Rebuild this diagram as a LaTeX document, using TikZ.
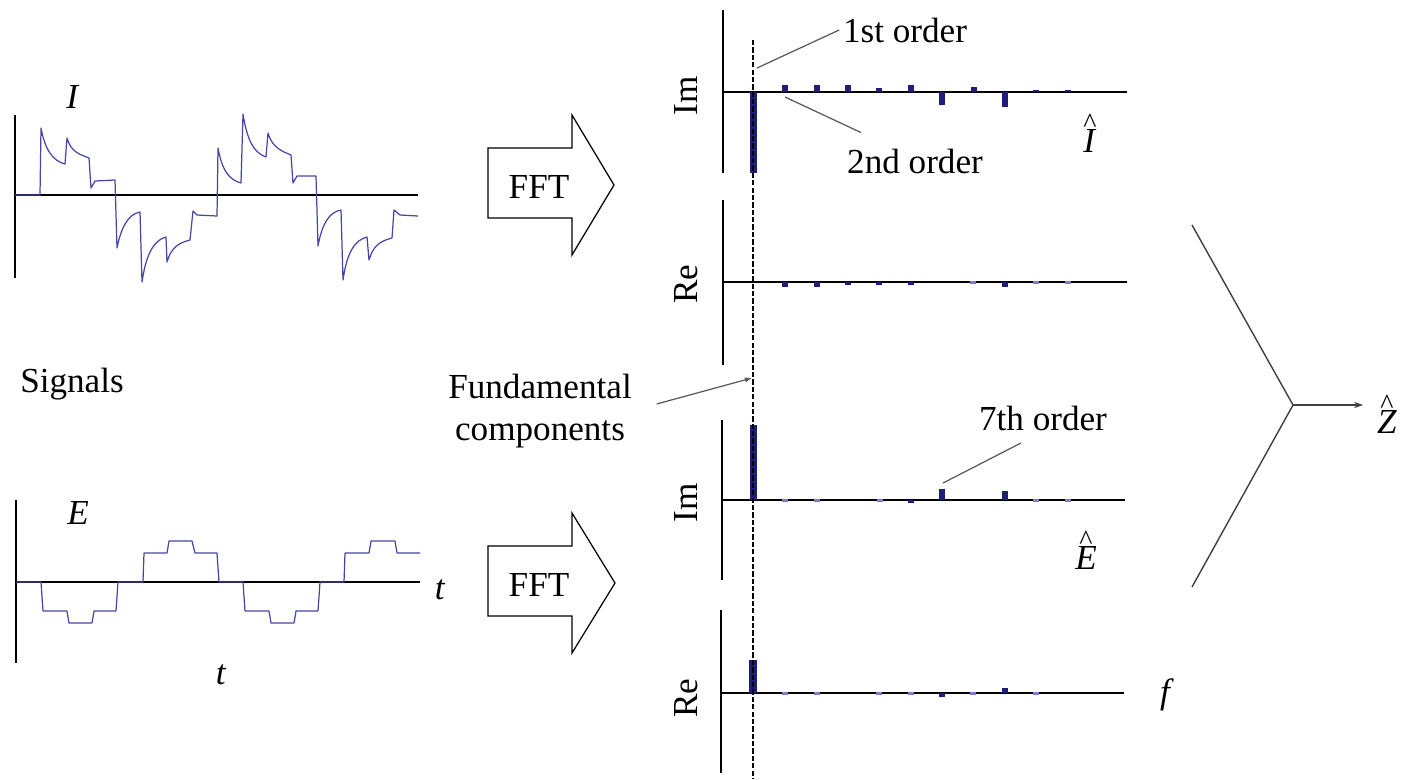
\documentclass[tikz,border=0pt]{standalone}
\usepackage{fontspec}
\setmainfont{Liberation Serif}
\newfontfamily\timesfont{Liberation Serif}
\usetikzlibrary{arrows.meta,calc}

\definecolor{sigblue}{RGB}{70,70,165}
\definecolor{barblue}{RGB}{30,30,120}
\definecolor{faintblue}{RGB}{125,125,205}

\newcommand{\hatted}[1]{\begin{tabular}{@{}c@{}}\fontsize{16}{16}\selectfont\textasciicircum\\[-13pt]\textit{#1}\end{tabular}}

\begin{document}
\begin{tikzpicture}[
  x=0.02cm, y=-0.02cm,
  font=\timesfont\fontsize{20}{24}\selectfont,
  axis/.style={line width=0.8pt},
  sig/.style={sigblue, line width=0.7pt, line join=round},
  bar/.style={fill=barblue},
  faint/.style={faintblue, line width=1.2pt},
  lead/.style={gray!70!black, line width=0.7pt},
  comb/.style={black!75, line width=0.8pt},
  fftarr/.style={draw, line width=0.7pt, line join=miter},
  lbl/.style={inner sep=2pt},
  axlbl/.style={rotate=90, inner sep=1pt}
]
\useasboundingbox (0,0) rectangle (1419,779);

% time signals
\draw[axis] (15,115) -- (15,278);
\draw[axis] (15,195) -- (418,195);
\draw[sig] (15,195) -- (40,195) -- (41,128) .. controls +(4,22) and +(-12,-3) .. (65,164)
  -- (67,138) .. controls +(4,14) and +(-10,-4) .. (89,158) -- (91,188) -- (95,181) -- (115,180)
  -- (117,248) .. controls +(4,-20) and +(-12,2) .. (140,212)
  -- (142,282) .. controls +(4,-28) and +(-12,3) .. (166,237)
  -- (167,262) .. controls +(4,-14) and +(-12,3) .. (190,240) -- (193,211) -- (197,215) -- (217,216)
  -- (218,148) .. controls +(4,22) and +(-12,-3) .. (241,183)
  -- (243,114) .. controls +(4,26) and +(-12,-4) .. (266,157)
  -- (268,133) .. controls +(4,14) and +(-10,-4) .. (291,155) -- (293,183) -- (297,176) -- (316,176)
  -- (318,246) .. controls +(4,-22) and +(-12,2) .. (341,210)
  -- (343,280) .. controls +(4,-28) and +(-12,3) .. (367,237)
  -- (369,260) .. controls +(4,-14) and +(-12,3) .. (392,238) -- (394,210) -- (400,215) -- (418,216);

\draw[axis] (16,500) -- (16,663);
\draw[axis] (16,582) -- (420,582);
\draw[sig] (16,582) -- (41,582) -- (43,611) -- (67,611) -- (69,623) -- (92,623) -- (94,611) -- (116,611)
  -- (118,582) -- (143,582) -- (144,553) -- (167,553) -- (169,541) -- (192,541) -- (195,553) -- (217,553)
  -- (219,582) -- (243,582) -- (245,611) -- (269,611) -- (271,623) -- (294,623) -- (296,611) -- (318,611)
  -- (320,582) -- (344,582) -- (345,553) -- (369,553) -- (371,541) -- (395,541) -- (397,553) -- (420,553);

\node[lbl] (isig) at (73,97) {\textit{I}};
\node[lbl] (esig) at (78,513) {\textit{E}};
\node[lbl] (tright) at (440,590) {\textit{t}};
\node[lbl] (tbot) at (221,675) {\textit{t}};
\node[lbl] (signals) at (72,384) {Signals};

% FFT arrows
\draw[fftarr] (488,148) -- (572,148) -- (572,115) -- (614,185) -- (572,255) -- (572,218) -- (488,218) -- cycle;
\node[lbl] (fft1) at (539,187) {FFT};
\draw[fftarr] (488,546) -- (572,546) -- (572,513) -- (615,583) -- (572,653) -- (572,616) -- (488,616) -- cycle;
\node[lbl] (fft2) at (539,585) {FFT};

% spectrum of I, imaginary part
\draw[axis] (723,10) -- (723,173);
\draw[axis] (723,92) -- (1127,92);
\fill[bar] (750,92) rectangle (757,173);
\foreach \x/\h in {785/-7,817/-7,848/-7,879/-4,911/-7,942/13,974/-5,1005/15,1036/-2,1068/-2}
  \fill[bar] (\x-3,92) rectangle (\x+3,92+\h);

% spectrum of I, real part
\draw[axis] (723,200) -- (723,365);
\draw[axis] (723,282) -- (1127,282);
\foreach \x/\h in {785/5,817/5,848/3,879/3,911/3,1005/5}
  \fill[bar] (\x-3,282) rectangle (\x+3,282+\h);
\foreach \x in {973,1036,1068}
  \draw[faint] (\x-3,282.5) -- (\x+3,282.5);

% spectrum of E, imaginary part
\draw[axis] (722,420) -- (722,580);
\draw[axis] (722,500) -- (1125,500);
\fill[bar] (750,500) rectangle (757,425);
\foreach \x/\h in {911/3,942/-11,1005/-9}
  \fill[bar] (\x-3,500) rectangle (\x+3,500+\h);
\foreach \x in {785,817,880,1036,1068}
  \draw[faint] (\x-3,500.5) -- (\x+3,500.5);

% spectrum of E, real part
\draw[axis] (721,610) -- (721,773);
\draw[axis] (721,693) -- (1124,693);
\fill[bar] (749,693) rectangle (757,660);
\foreach \x/\h in {942/4,1005/-5}
  \fill[bar] (\x-3,693) rectangle (\x+3,693+\h);
\foreach \x in {785,817,879,911,973,1036}
  \draw[faint] (\x-3,693.5) -- (\x+3,693.5);

% fundamental line
\draw[line width=0.7pt, dash pattern=on 3pt off 1.2pt] (753,40) -- (753,779);

\node[axlbl] (im1) at (686,96) {Im};
\node[axlbl] (re1) at (686,284) {Re};
\node[axlbl] (im2) at (686,503) {Im};
\node[axlbl] (re2) at (686,698) {Re};

\node[lbl] (ihat) at (1090,134) {\hatted{I}};
\node[lbl] (ehat) at (1086,551) {\hatted{E}};
\node[lbl] (freq) at (1167,695) {\textit{f}};

% order labels
\node[lbl] (ord1) at (905,30) {1st order};
\node[lbl] (ord2) at (915,161) {2nd order};
\node[lbl] (ord7) at (1043,418) {7th order};
\node[lbl, align=center] (fund) at (540,411) {Fundamental\\components};

\coordinate (p1) at (757,68);
\coordinate (p2) at (785,97);
\coordinate (p7) at (943,483);
\coordinate (pf) at (752,378);
\draw[lead] (p1) -- (ord1.west);
\draw[lead] (p2) -- ([xshift=10pt,yshift=7pt]ord2.north west);
\draw[lead] (p7) -- ([xshift=26pt,yshift=-5pt]ord7.south west);
\draw[lead, -{Latex[length=4pt,width=3pt]}] ([xshift=12pt,yshift=4pt]fund.east) -- (pf);

% combination into impedance
\coordinate (ztop) at (1192,225);
\coordinate (zbot) at (1192,587);
\coordinate (jn) at (1293,405);
\coordinate (zin) at (1363,405);
\node[lbl] (zhat) at (1387,415) {\hatted{Z}};
\draw[comb] (ztop) -- (jn) -- (zbot);
\draw[comb, -{Stealth[length=5pt,width=3.5pt]}] (jn) -- (zin);

\end{tikzpicture}
\end{document}
